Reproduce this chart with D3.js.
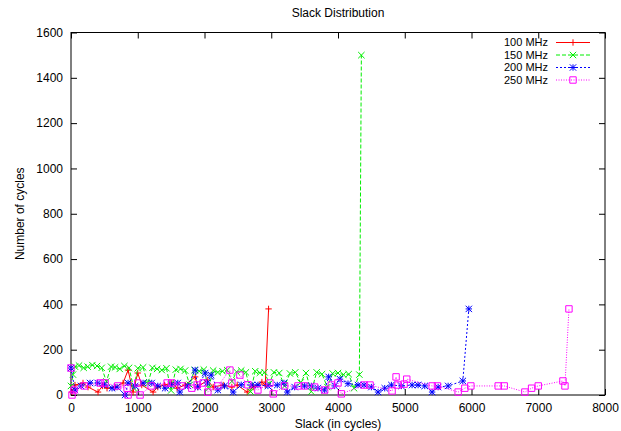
<!DOCTYPE html>
<html><head><meta charset="utf-8">
<script src="https://cdn.jsdelivr.net/npm/d3@7"></script>
<style>body{margin:0;background:#fff}svg{display:block}text{font-family:"Liberation Sans",Arial,Helvetica,sans-serif}</style>
</head><body><svg id="c" width="621" height="431"></svg>
<script>
const xTicks = [0,1000,2000,3000,4000,5000,6000,7000,8000];
const yTicks = [0,200,400,600,800,1000,1200,1400,1600];
const seriesNames = ["100 MHz","150 MHz","200 MHz","250 MHz"];

const redX = [15,60,180,255,405,470,540,660,780,855,930,1000,1060,1230,1300,1400,1510,1590,1710,1860,1900,2040,2130,2280,2410,2490,2640,2730,2860,2910,2960];
const redY = [13,44,53,35,13,40,30,35,53,110,13,97,44,13,35,44,53,30,44,80,35,66,35,44,35,44,13,35,57,44,380];

const greenX = [0,30,60,120,190,250,320,390,460,530,600,660,730,800,870,940,1000,1080,1150,1220,1290,1360,1430,1500,1570,1640,1710,1780,1850,1920,1990,2060,2130,2200,2270,2340,2410,2480,2550,2620,2690,2760,2830,2900,2970,3040,3120,3200,3280,3360,3440,3520,3600,3680,3760,3840,3920,4000,4080,4160,4240,4320,4350];
const greenY = [40,90,125,130,120,125,132,128,120,60,125,122,115,128,120,30,118,122,50,120,115,110,118,20,112,115,108,45,110,105,112,30,108,100,105,110,60,102,108,100,15,105,98,100,50,100,97,40,95,100,55,97,15,100,92,35,95,97,90,92,30,90,1500];

const blueX = [0,60,150,285,400,500,615,690,810,855,960,1080,1210,1300,1410,1500,1600,1630,1750,1860,1900,2010,2040,2100,2200,2300,2430,2550,2710,2800,2950,3090,3190,3240,3350,3500,3600,3700,3800,3860,3950,4030,4150,4300,4390,4500,4600,4700,4800,4950,5110,5200,5300,5410,5500,5650,5870,5960];
const blueY = [119,22,40,53,53,45,30,35,0,53,40,53,53,40,30,45,53,13,40,110,35,97,53,88,22,40,13,45,44,44,40,44,53,13,35,40,40,30,22,80,40,70,50,44,44,35,13,30,44,40,44,44,40,13,35,40,62,380];

const magX = [0,15,45,200,435,510,700,840,855,1000,1035,1200,1440,1510,1650,1810,1890,1980,2050,2200,2380,2410,2530,2650,2800,2980,3030,3200,3400,3500,3650,3800,3900,4000,4050,4390,4480,4810,4870,4900,4990,5030,5410,5490,5800,5900,5990,6400,6490,6800,6900,7000,7370,7400,7460];
const magY = [119,0,22,40,53,53,40,30,0,53,0,40,53,53,40,30,44,53,13,40,110,53,88,45,22,53,5,40,40,40,35,22,44,53,5,44,44,18,80,44,48,70,40,40,13,30,40,40,40,13,30,40,62,40,380];

const svg = d3.select("#c");
const L = 71, R = 605, T = 32.5, B = 395;
const x = d3.scaleLinear().domain([0,8000]).range([L,R]);
const y = d3.scaleLinear().domain([0,1600]).range([B,T]);
const fmt = d3.format("d");

svg.append("text").attr("x",338).attr("y",17).attr("text-anchor","middle").attr("font-size",12).text("Slack Distribution");

const tk = 6;
svg.append("g").attr("transform",`translate(0,${B})`).call(d3.axisBottom(x).tickValues(xTicks).tickFormat(fmt).tickSizeInner(-tk).tickSizeOuter(0).tickPadding(8))
  .call(g=>{g.select(".domain").remove();g.selectAll("text").attr("font-size",12).attr("font-family","Liberation Sans, Arial").attr("fill","#000");});
svg.append("g").attr("transform",`translate(0,${T})`).call(d3.axisTop(x).tickValues(xTicks).tickSizeInner(-tk).tickSizeOuter(0).tickFormat(""))
  .call(g=>g.select(".domain").remove());
svg.append("g").attr("transform",`translate(${L},0)`).call(d3.axisLeft(y).tickValues(yTicks).tickFormat(fmt).tickSizeInner(-tk).tickSizeOuter(0).tickPadding(8))
  .call(g=>{g.select(".domain").remove();g.selectAll("text").attr("font-size",12).attr("font-family","Liberation Sans, Arial").attr("fill","#000");});
svg.append("g").attr("transform",`translate(${R},0)`).call(d3.axisRight(y).tickValues(yTicks).tickSizeInner(-tk).tickSizeOuter(0).tickFormat(""))
  .call(g=>g.select(".domain").remove());
svg.selectAll(".tick line").attr("stroke","#000");
svg.append("rect").attr("x",L).attr("y",T).attr("width",R-L).attr("height",B-T).attr("fill","none").attr("stroke","#000").attr("stroke-width",1);

svg.append("text").attr("transform",`translate(20,${(T+B)/2}) rotate(-90)`).attr("text-anchor","middle").attr("dy","0.35em").attr("font-size",12).text("Number of cycles");
svg.append("text").attr("x",(L+R)/2).attr("y",428).attr("text-anchor","middle").attr("font-size",12).text("Slack (in cycles)");

const styles = [
  {c:"#ff0000", dash:null, m:"plus"},
  {c:"#00ee00", dash:"4,2", m:"cross"},
  {c:"#0000ff", dash:"2,2", m:"star"},
  {c:"#ff00ff", dash:"1,1.5", m:"square"}
];
const data = [
  redX.map((v,i)=>[v,redY[i]]),
  greenX.map((v,i)=>[v,greenY[i]]),
  blueX.map((v,i)=>[v,blueY[i]]),
  magX.map((v,i)=>[v,magY[i]])
];
const s = 3.2;
function marker(g, type, cx, cy, col){
  const p = d3.path();
  if(type==="plus"||type==="star"){p.moveTo(cx-s,cy);p.lineTo(cx+s,cy);p.moveTo(cx,cy-s);p.lineTo(cx,cy+s);}
  if(type==="cross"||type==="star"){p.moveTo(cx-s,cy-s);p.lineTo(cx+s,cy+s);p.moveTo(cx-s,cy+s);p.lineTo(cx+s,cy-s);}
  if(type==="square"){p.rect(cx-s,cy-s,2*s,2*s);}
  g.append("path").attr("d",p.toString()).attr("fill","none").attr("stroke",col).attr("stroke-width",1);
}
const line = d3.line().x(d=>x(d[0])).y(d=>y(d[1]));
data.forEach((d,i)=>{
  const st = styles[i];
  const g = svg.append("g");
  g.append("path").datum(d).attr("d",line).attr("fill","none").attr("stroke",st.c).attr("stroke-width",1).attr("stroke-dasharray",st.dash);
  d.forEach(p=>marker(g, st.m, x(p[0]), y(p[1]), st.c));
});

const ly = [42.5,55,67.5,80];
seriesNames.forEach((n,i)=>{
  const st = styles[i];
  const g = svg.append("g");
  g.append("text").attr("x",548).attr("y",ly[i]).attr("dy","0.35em").attr("text-anchor","end").attr("font-size",11).text(n);
  g.append("line").attr("x1",556).attr("x2",590).attr("y1",ly[i]).attr("y2",ly[i]).attr("stroke",st.c).attr("stroke-width",1).attr("stroke-dasharray",st.dash);
  marker(g, st.m, 573, ly[i], st.c);
});
</script></body></html>
